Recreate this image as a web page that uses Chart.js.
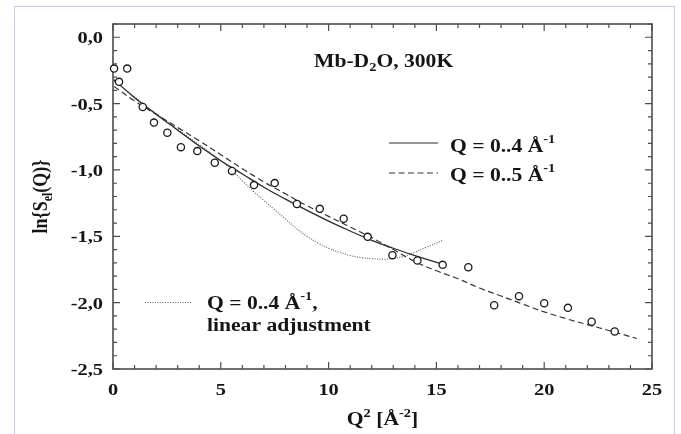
<!DOCTYPE html>
<html>
<head>
<meta charset="utf-8">
<script src="https://cdn.jsdelivr.net/npm/chart.js@4.4.1/dist/chart.umd.min.js"></script>
<style>
  html, body { margin: 0; padding: 0; background: #fff; }
  canvas { display: block; }
</style>
</head>
<body>
<canvas id="chart" width="681" height="434"></canvas>
<script>
// measured elastic intensity, ln S_el(Q) against Q^2
var qSquared = [0.05, 0.66, 0.28, 1.38, 1.90, 2.52, 3.15, 3.91, 4.72, 5.52, 6.54, 7.50, 8.53,
                9.59, 10.70, 11.81, 12.96, 14.12, 15.29, 16.48, 17.68, 18.83, 20.00, 21.10, 22.20, 23.27];
var lnSel = [-0.236, -0.236, -0.336, -0.525, -0.643, -0.720, -0.828, -0.858, -0.946, -1.007, -1.114, -1.099, -1.257,
             -1.293, -1.368, -1.504, -1.642, -1.682, -1.715, -1.733, -2.019, -1.951, -2.004, -2.039, -2.144, -2.217];

// fit over Q = 0..4 1/A
var fit4X = [0.05, 1, 2, 3, 4, 5, 6, 7, 8, 9, 10, 11, 12, 13, 14, 15.3];
var fit4Y = [-0.32, -0.455, -0.58, -0.70, -0.82, -0.93, -1.03, -1.13, -1.22, -1.305, -1.385, -1.46, -1.53, -1.59, -1.645, -1.71];

// fit over Q = 0..5 1/A
var fit5X = [0.05, 1, 2, 3, 4, 5, 6, 7, 8, 9, 10, 11, 12, 13, 14, 15, 16, 17, 18, 19, 20, 21, 22, 23, 24.3];
var fit5Y = [-0.37, -0.48, -0.58, -0.68, -0.78, -0.885, -0.99, -1.09, -1.18, -1.27, -1.35, -1.43, -1.51, -1.60, -1.69,
             -1.76, -1.82, -1.89, -1.95, -2.01, -2.07, -2.12, -2.165, -2.21, -2.27];

// Q = 0..4 1/A with linear adjustment
var linX = [0.05, 1, 2, 3, 4, 5, 5.5, 6, 6.5, 7, 7.5, 8, 8.5, 9, 9.5, 10, 10.5, 11, 11.5, 12, 12.5, 13, 13.5, 14, 14.5, 15.3];
var linY = [-0.33, -0.45, -0.575, -0.695, -0.81, -0.93, -1.0, -1.08, -1.16, -1.23, -1.30, -1.37, -1.44, -1.50, -1.55,
            -1.59, -1.62, -1.645, -1.66, -1.668, -1.672, -1.666, -1.65, -1.62, -1.585, -1.53];

var xTicks = [0, 5, 10, 15, 20, 25];
var xTickLabels = ['0', '5', '10', '15', '20', '25'];
var yTicks = [0, -0.5, -1, -1.5, -2, -2.5];
var yTickLabels = ['0,0', '-0,5', '-1,0', '-1,5', '-2,0', '-2,5'];

var serif = '"Liberation Serif", "Times New Roman", serif';
var STRETCH = 1.2;
var INK = '#151515';
var FRAME = '#4d4d4d';

function pairs(xs, ys) {
  return xs.map(function(x, i) { return {x: x, y: ys[i]}; });
}

function partWidth(ctx, p, sx) {
  ctx.font = 'bold ' + p.size + 'px ' + serif;
  return ctx.measureText(p.text).width * sx;
}

function runWidth(ctx, parts, sx) {
  var w = 0;
  parts.forEach(function(p) { w += partWidth(ctx, p, sx); });
  return w;
}

// draws text pieces one after another, sub/superscripts via dy
function drawRun(ctx, parts, x, y, sx) {
  ctx.fillStyle = INK;
  ctx.textBaseline = 'alphabetic';
  ctx.textAlign = 'left';
  parts.forEach(function(p) {
    var w = partWidth(ctx, p, sx);
    ctx.save();
    ctx.translate(x, y + (p.dy || 0));
    ctx.scale(sx, 1);
    ctx.fillText(p.text, 0, 0);
    ctx.restore();
    x += w;
  });
}

function legendLine(ctx, x1, x2, y, dash, color) {
  ctx.save();
  ctx.strokeStyle = color;
  ctx.lineWidth = 1.2;
  ctx.setLineDash(dash);
  ctx.beginPath();
  ctx.moveTo(x1, y);
  ctx.lineTo(x2, y);
  ctx.stroke();
  ctx.restore();
}

var framePlugin = {
  id: 'frame',
  beforeDraw: function(chart) {
    var ctx = chart.ctx;
    ctx.save();
    ctx.fillStyle = '#fff';
    ctx.fillRect(0, 0, chart.width, chart.height);
    ctx.strokeStyle = '#c9c9ef';
    ctx.lineWidth = 1;
    ctx.strokeRect(14.5, 6.5, 660, 440);
    ctx.restore();
  },
  beforeDatasetsDraw: function(chart) {
    var ctx = chart.ctx, a = chart.chartArea;
    var xs = chart.scales.x, ys = chart.scales.y;
    ctx.save();
    ctx.strokeStyle = FRAME;
    ctx.lineWidth = 1.6;
    ctx.strokeRect(a.left, a.top, a.right - a.left, a.bottom - a.top);

    // inward ticks on all four sides
    ctx.lineWidth = 1.2;
    ctx.beginPath();
    for (var i = 0; i <= 25; i++) {
      var px = xs.getPixelForValue(i);
      var len = (i % 5 === 0) ? 7 : 4;
      ctx.moveTo(px, a.bottom); ctx.lineTo(px, a.bottom - len);
      ctx.moveTo(px, a.top); ctx.lineTo(px, a.top + len);
    }
    for (var j = 0; j <= 26; j++) {
      var v = -2.5 + j * 0.1;
      var py = ys.getPixelForValue(v);
      var major = (j % 5 === 0);
      var l = major ? 7 : 4;
      ctx.moveTo(a.left, py); ctx.lineTo(a.left + l, py);
      ctx.moveTo(a.right, py); ctx.lineTo(a.right - l, py);
    }
    ctx.stroke();
    ctx.restore();
  },
  afterDraw: function(chart) {
    var ctx = chart.ctx, a = chart.chartArea;
    var xs = chart.scales.x, ys = chart.scales.y;
    ctx.save();

    // tick labels
    xTicks.forEach(function(v, i) {
      var parts = [{text: xTickLabels[i], size: 17}];
      var w = runWidth(ctx, parts, STRETCH);
      drawRun(ctx, parts, xs.getPixelForValue(v) - w / 2, a.bottom + 26, STRETCH);
    });
    yTicks.forEach(function(v, i) {
      var parts = [{text: yTickLabels[i], size: 17}];
      var w = runWidth(ctx, parts, STRETCH);
      drawRun(ctx, parts, a.left - 10 - w, ys.getPixelForValue(v) + 6, STRETCH);
    });

    // x axis title: Q^2 [A^-2]
    var xt = [
      {text: 'Q', size: 18},
      {text: '2', size: 12, dy: -8},
      {text: ' [Å', size: 18},
      {text: '-2', size: 12, dy: -8},
      {text: ']', size: 18}
    ];
    var xw = runWidth(ctx, xt, STRETCH);
    drawRun(ctx, xt, (a.left + a.right) / 2 - xw / 2, 425, STRETCH);

    // y axis title: ln{S_el(Q)}, rotated
    var yt = [
      {text: 'ln{S', size: 18},
      {text: 'el', size: 12, dy: 4},
      {text: '(Q)}', size: 18}
    ];
    var yw = runWidth(ctx, yt, 1);
    ctx.save();
    ctx.translate(47, (a.top + a.bottom) / 2);
    ctx.rotate(-Math.PI / 2);
    ctx.scale(1, STRETCH);
    drawRun(ctx, yt, -yw / 2, 0, 1);
    ctx.restore();

    // sample label
    drawRun(ctx, [
      {text: 'Mb-D', size: 18},
      {text: '2', size: 12, dy: 4},
      {text: 'O, 300K', size: 18}
    ], 314, 67, STRETCH);

    // legend
    legendLine(ctx, 389, 438, 143, [], '#2a2a2a');
    drawRun(ctx, [{text: 'Q = 0..4 Å', size: 18}, {text: '-1', size: 12, dy: -9}], 450, 152, STRETCH);
    legendLine(ctx, 389, 438, 173, [6, 3.5], '#333');
    drawRun(ctx, [{text: 'Q = 0..5 Å', size: 18}, {text: '-1', size: 12, dy: -9}], 450, 181, STRETCH);
    legendLine(ctx, 145, 192, 302.5, [1, 1.5], '#666');
    drawRun(ctx, [{text: 'Q = 0..4 Å', size: 18}, {text: '-1', size: 12, dy: -9}, {text: ',', size: 18}], 207, 309, STRETCH);
    drawRun(ctx, [{text: 'linear adjustment', size: 18}], 207, 331, STRETCH);

    ctx.restore();
  }
};

new Chart(document.getElementById('chart'), {
  type: 'scatter',
  data: {
    datasets: [
      {
        label: 'data',
        data: pairs(qSquared, lnSel),
        showLine: false,
        pointStyle: 'circle',
        pointRadius: 3.6,
        pointBorderWidth: 1.3,
        pointBorderColor: '#1a1a1a',
        pointBackgroundColor: '#fff',
        clip: false,
        order: 0
      },
      {
        label: 'Q = 0..4',
        data: pairs(fit4X, fit4Y),
        showLine: true,
        pointRadius: 0,
        borderColor: '#2a2a2a',
        borderWidth: 1.3,
        tension: 0.4,
        order: 1
      },
      {
        label: 'Q = 0..5',
        data: pairs(fit5X, fit5Y),
        showLine: true,
        pointRadius: 0,
        borderColor: '#333',
        borderWidth: 1.2,
        borderDash: [6, 3.5],
        tension: 0.4,
        order: 2
      },
      {
        label: 'Q = 0..4, linear adjustment',
        data: pairs(linX, linY),
        showLine: true,
        pointRadius: 0,
        borderColor: '#666',
        borderWidth: 1.2,
        borderDash: [1, 1.5],
        tension: 0.4,
        order: 3
      }
    ]
  },
  options: {
    responsive: false,
    animation: false,
    events: [],
    layout: { padding: { left: 0, right: 29, top: 24, bottom: 0 } },
    plugins: { legend: { display: false }, tooltip: { enabled: false } },
    scales: {
      x: {
        type: 'linear',
        min: 0,
        max: 25,
        grid: { display: false },
        border: { display: false },
        ticks: { display: false },
        afterFit: function(s) { s.height = 65; }
      },
      y: {
        type: 'linear',
        min: -2.5,
        max: 0.1,
        grid: { display: false },
        border: { display: false },
        ticks: { display: false },
        afterFit: function(s) { s.width = 113; }
      }
    }
  },
  plugins: [framePlugin]
});
</script>
</body>
</html>
